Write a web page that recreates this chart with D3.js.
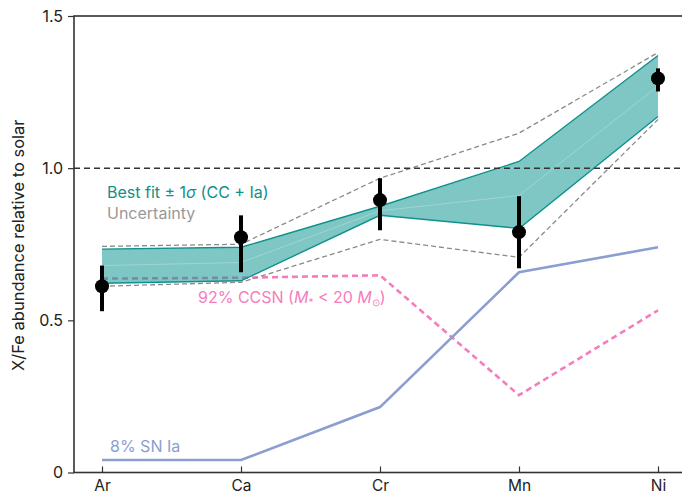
<!DOCTYPE html>
<html>
<head>
<meta charset="utf-8">
<script src="https://cdn.jsdelivr.net/npm/d3@7"></script>
<style>
  html, body { margin: 0; padding: 0; background: #fff; }
  svg { display: block; font-family: Inter, "Noto Sans", sans-serif; }
</style>
</head>
<body>
<svg id="chart" width="682" height="497"></svg>
<script>
// Elements along the x axis
const elements = ["Ar", "Ca", "Cr", "Mn", "Ni"];

// Measured X/Fe ratios with 1-sigma error bars
const observed = [0.612, 0.773, 0.895, 0.790, 1.295];
const observedLow = [0.530, 0.658, 0.796, 0.671, 1.252];
const observedHigh = [0.680, 0.845, 0.967, 0.908, 1.328];

// Best-fit model (CC + Ia) and its 1-sigma band
const bestFit = [0.680, 0.690, 0.860, 0.910, 1.270];
const fitLow = [0.622, 0.630, 0.845, 0.802, 1.170];
const fitHigh = [0.734, 0.740, 0.875, 1.022, 1.370];

// Outer uncertainty envelope
const uncLow = [0.612, 0.625, 0.766, 0.707, 1.160];
const uncHigh = [0.743, 0.750, 0.967, 1.115, 1.380];

// Individual components
const ccsn = [0.637, 0.640, 0.648, 0.254, 0.533];
const snIa = [0.041, 0.041, 0.215, 0.658, 0.740];

const yTicks = [0, 0.5, 1.0, 1.5];
const yTickLabels = ["0", "0.5", "1.0", "1.5"];

const svg = d3.select("#chart");
const plotLeft = 74, plotRight = 686, plotTop = 16, plotBottom = 472.5;

const x = d3.scalePoint().domain(elements).range([102, 658]);
const y = d3.scaleLinear().domain([0, 1.5]).range([plotBottom, plotTop]);

const teal = "#0d918c";
const pink = "#f47dbd";
const blue = "#8b9ed1";
const grey = "#8a8a8a";

const line = arr => d3.line().x((d, i) => x(elements[i])).y(d => y(d))(arr);

// CCSN component (drawn first so the band tints it)
svg.append("path")
  .attr("d", line(ccsn))
  .attr("fill", "none").attr("stroke", pink)
  .attr("stroke-width", 2.6).attr("stroke-dasharray", "6,4");

// SN Ia component
svg.append("path")
  .attr("d", line(snIa))
  .attr("fill", "none").attr("stroke", blue)
  .attr("stroke-width", 2.6);

// Best fit ± 1 sigma band
const area = d3.area()
  .x((d, i) => x(elements[i]))
  .y0((d, i) => y(fitLow[i]))
  .y1((d, i) => y(fitHigh[i]));
svg.append("path")
  .attr("d", area(bestFit))
  .attr("fill", "#0a938e").attr("fill-opacity", 0.52);
svg.append("path")
  .attr("d", line(bestFit))
  .attr("fill", "none").attr("stroke", "#ffffff")
  .attr("stroke-opacity", 0.25).attr("stroke-width", 1);
[fitLow, fitHigh].forEach(arr => svg.append("path")
  .attr("d", line(arr))
  .attr("fill", "none").attr("stroke", teal).attr("stroke-width", 1.4));

// Uncertainty envelope
[uncLow, uncHigh].forEach(arr => svg.append("path")
  .attr("d", line(arr))
  .attr("fill", "none").attr("stroke", grey)
  .attr("stroke-width", 1.3).attr("stroke-dasharray", "5,3"));

// Solar reference line
svg.append("line")
  .attr("x1", plotLeft).attr("x2", plotRight)
  .attr("y1", y(1)).attr("y2", y(1))
  .attr("stroke", "#333").attr("stroke-width", 1.5)
  .attr("stroke-dasharray", "6,4");

// Observed points with error bars
const obs = svg.append("g");
elements.forEach((el, i) => {
  obs.append("line")
    .attr("x1", x(el)).attr("x2", x(el))
    .attr("y1", y(observedLow[i])).attr("y2", y(observedHigh[i]))
    .attr("stroke", "#000").attr("stroke-width", 4);
  obs.append("circle")
    .attr("cx", x(el)).attr("cy", y(observed[i]))
    .attr("r", 7).attr("fill", "#000");
});

// Frame
svg.append("rect")
  .attr("x", plotLeft).attr("y", plotTop)
  .attr("width", plotRight - plotLeft).attr("height", plotBottom - plotTop)
  .attr("fill", "none").attr("stroke", "#333").attr("stroke-width", 1.6);

// Y axis
const yAxis = svg.append("g")
  .attr("transform", `translate(${plotLeft},0)`)
  .call(d3.axisLeft(y).tickValues(yTicks).tickSize(6).tickPadding(5)
    .tickFormat((d, i) => yTickLabels[i]));
yAxis.select(".domain").remove();
yAxis.selectAll("line").attr("stroke", "#333").attr("stroke-width", 1.2);
yAxis.selectAll("text").attr("font-size", 16).attr("fill", "#222")
  .attr("font-family", "Inter, sans-serif");

// X axis, ticks pointing inward
const xAxis = svg.append("g")
  .attr("transform", `translate(0,${plotBottom})`)
  .call(d3.axisBottom(x).tickSize(-6).tickPadding(7));
xAxis.select(".domain").remove();
xAxis.selectAll("line").attr("stroke", "#333").attr("stroke-width", 1.2);
xAxis.selectAll("text").attr("font-size", 15.5).attr("fill", "#222")
  .attr("font-family", "Inter, sans-serif");

// Y axis title
svg.append("text")
  .attr("transform", `translate(24,${(plotTop + plotBottom) / 2 + 1}) rotate(-90)`)
  .attr("text-anchor", "middle")
  .attr("font-size", 16.5).attr("fill", "#222")
  .text("X/Fe abundance relative to solar");

// Series labels
const bf = svg.append("text").attr("x", 107).attr("y", 198)
  .attr("font-size", 16).attr("fill", teal);
bf.append("tspan").text("Best fit \u00b1 1");
bf.append("tspan").attr("font-style", "italic").text("\u03c3");
bf.append("tspan").text(" (CC + Ia)");

svg.append("text").attr("x", 107).attr("y", 219)
  .attr("font-size", 16).attr("fill", "#999").text("Uncertainty");

const cc = svg.append("text").attr("x", 198).attr("y", 303)
  .attr("font-size", 16).attr("fill", pink);
cc.append("tspan").text("92% CCSN (");
cc.append("tspan").attr("font-style", "italic").text("M");
cc.append("tspan").attr("font-size", 10).attr("dy", 3).text("*");
cc.append("tspan").attr("dy", -3).text(" < 20 ");
cc.append("tspan").attr("font-style", "italic").text("M");
cc.append("tspan").attr("font-size", 10).attr("dy", 3).text("\u2299");
cc.append("tspan").attr("dy", -3).text(")");

svg.append("text").attr("x", 110).attr("y", 452)
  .attr("font-size", 16).attr("fill", blue).text("8% SN Ia");
</script>
</body>
</html>
